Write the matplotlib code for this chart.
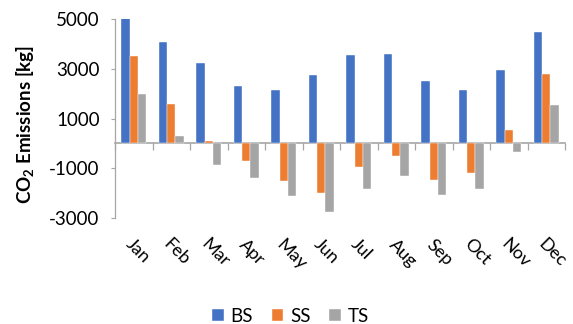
import matplotlib
matplotlib.use("Agg")
import matplotlib.pyplot as plt
import matplotlib.transforms as mtransforms
import numpy as np

months = ["Jan", "Feb", "Mar", "Apr", "May", "Jun", "Jul", "Aug", "Sep", "Oct", "Nov", "Dec"]
bs = [5050, 4060, 3230, 2320, 2150, 2740, 3550, 3590, 2500, 2150, 2940, 4460]
ss = [3500, 1600, 100, -690, -1500, -1990, -960, -500, -1460, -1200, 550, 2800]
ts = [2000, 300, -880, -1390, -2100, -2740, -1820, -1310, -2060, -1830, -330, 1560]
series_names = ["BS", "SS", "TS"]
colors = ["#4472C4", "#ED7D31", "#A5A5A5"]
yticks = [-3000, -1000, 1000, 3000, 5000]

plt.rcParams["font.family"] = ["Lato", "DejaVu Sans"]
plt.rcParams["mathtext.fontset"] = "custom"
plt.rcParams["mathtext.bf"] = "Lato:bold"
plt.rcParams["mathtext.rm"] = "Lato"
plt.rcParams["axes.unicode_minus"] = False

fig = plt.figure(figsize=(5.73, 3.24), dpi=100)
ax = fig.add_axes([115 / 573, 1 - 218.3 / 324, 450 / 573, 199.6 / 324])

x = np.arange(len(months))
w = 0.225
for k, (vals, name, c) in enumerate(zip([bs, ss, ts], series_names, colors)):
    ax.bar(x + (k - 1) * w, vals, width=w, color=c, label=name,
           edgecolor="white", linewidth=0.3)

ymin, ymax = -3000, 5000
ax.set_ylim(ymin, ymax)
ax.set_xlim(-0.5, len(months) - 0.5)
ax.set_yticks(yticks)
ax.tick_params(axis="y", length=3, width=0.8, color="#a6a6a6", pad=8, labelsize=13.5)

axis_gray = "#a6a6a6"
for s in ["top", "right", "bottom"]:
    ax.spines[s].set_visible(False)
ax.spines["left"].set_color(axis_gray)
ax.spines["left"].set_linewidth(0.9)

# month labels at the bottom of the plot area
ax.set_xticks(x)
ax.set_xticklabels(months, fontsize=13)
ax.tick_params(axis="x", length=0, pad=17)
shift = mtransforms.ScaledTranslation(-5 / 100, 0, fig.dpi_scale_trans)
for lab in ax.get_xticklabels():
    lab.set_rotation(-45)
    lab.set_ha("left")
    lab.set_va("center")
    lab.set_rotation_mode("anchor")
    lab.set_transform(lab.get_transform() + shift)

# category axis line at zero with boundary tick marks
zero_pos = (0 - ymin) / (ymax - ymin)
sec = ax.secondary_xaxis(zero_pos)
sec.set_xticks(np.arange(len(months) + 1) - 0.5)
sec.set_xticklabels([])
sec.tick_params(axis="x", length=5, width=0.9, color=axis_gray, direction="out")
sec.spines["bottom"].set_color(axis_gray)
sec.spines["bottom"].set_linewidth(1.2)

fig.text(26 / 573, 1 - 124 / 324, r"CO$_\mathbf{2}$ Emissions [kg]", rotation=90,
         fontsize=13.5, fontweight="bold", ha="center", va="center")

fig.legend(loc="center", bbox_to_anchor=(290.5 / 573, 1 - 316.5 / 324), ncol=3, frameon=False,
           fontsize=13.5, handlelength=0.62, handleheight=0.62, columnspacing=1.0,
           handletextpad=0.35)

fig.savefig("out.png", dpi=100)
